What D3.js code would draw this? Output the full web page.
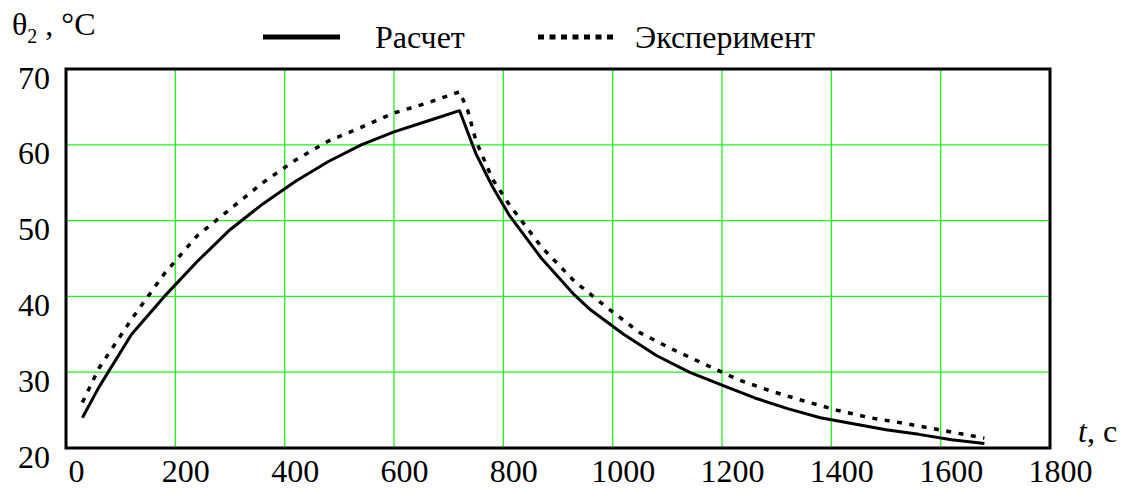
<!DOCTYPE html>
<html>
<head>
<meta charset="utf-8">
<script src="https://cdn.jsdelivr.net/npm/d3@7"></script>
<style>
body { margin: 0; background: #fff; }
svg text { font-family: "Liberation Serif", "Times New Roman", serif; fill: #000; }
</style>
</head>
<body>
<svg id="chart" width="1126" height="489"></svg>
<script>
// Расчет (solid)
var calcT = [30, 60, 120, 180, 240, 300, 360, 420, 480, 540, 600, 660, 720,
             750, 780, 810, 870, 930, 960, 1020, 1080, 1140, 1200, 1260, 1320, 1380, 1440, 1500, 1560, 1620, 1680]
var calcV = [24, 28, 35, 40, 44.6, 48.8, 52.2, 55.2, 57.8, 60, 61.7, 63.1, 64.5,
             58.8, 54.5, 50.8, 45, 40.2, 38.2, 35, 32.2, 30, 28.3, 26.6, 25.2, 24, 23.2, 22.4, 21.8, 21.1, 20.6]
// Эксперимент (dotted)
var expT = [30, 60, 120, 180, 240, 300, 360, 420, 480, 540, 600, 660, 720,
            735, 750, 780, 810, 870, 930, 990, 1050, 1110, 1170, 1230, 1290, 1350, 1410, 1470, 1530, 1590, 1650, 1680]
var expV = [26, 30.5, 37, 43, 48, 51.5, 55, 58, 60.5, 62.3, 64.2, 65.5, 67,
            64.5, 60.5, 55.5, 52.2, 46.5, 42, 38.5, 35.2, 33, 31, 29, 27.5, 26.2, 25, 24, 23.3, 22.5, 21.7, 21.3]

var xTicks = [0, 200, 400, 600, 800, 1000, 1200, 1400, 1600, 1800]
var yTicks = [20, 30, 40, 50, 60, 70]

var svg = d3.select("#chart")
var m = { left: 66, right: 1050, top: 69, bottom: 448 }
var fontSize = 32
var serif = "Liberation Serif"

var x = d3.scaleLinear().domain([0, 1800]).range([m.left, m.right])
var y = d3.scaleLinear().domain([20, 70]).range([m.bottom, m.top])

// grid
var grid = svg.append("g")
grid.selectAll(".gx").data(xTicks.slice(1, -1)).enter().append("line")
    .attr("x1", function(d) { return x(d) }).attr("x2", function(d) { return x(d) })
    .attr("y1", m.top).attr("y2", m.bottom)
    .attr("stroke", "#22f022").attr("stroke-width", 1.3)
grid.selectAll(".gy").data(yTicks.slice(1, -1)).enter().append("line")
    .attr("y1", function(d) { return y(d) }).attr("y2", function(d) { return y(d) })
    .attr("x1", m.left).attr("x2", m.right)
    .attr("stroke", "#22f022").attr("stroke-width", 1.3)

// axes tick labels
var xAxis = d3.axisBottom(x).tickValues(xTicks).tickFormat(d3.format("d")).tickSize(0).tickPadding(0)
var gx = svg.append("g").attr("transform", "translate(10," + (m.bottom + 34) + ")").call(xAxis)
gx.attr("font-family", serif).attr("font-size", fontSize)
gx.select(".domain").remove()
gx.selectAll("text").attr("dy", 0).attr("fill", "#000")

var yAxis = d3.axisLeft(y).tickValues(yTicks).tickFormat(d3.format("d")).tickSize(0).tickPadding(0)
var gy = svg.append("g").attr("transform", "translate(50,0)").call(yAxis)
gy.attr("font-family", serif).attr("font-size", fontSize)
gy.select(".domain").remove()
gy.selectAll("text").attr("dy", 19).attr("fill", "#000")

// curves
var line = d3.line()
    .x(function(d) { return x(d[0]) })
    .y(function(d) { return y(d[1]) })

svg.append("path")
    .datum(calcT.map(function(t, i) { return [t, calcV[i]] }))
    .attr("d", line)
    .attr("fill", "none").attr("stroke", "#000").attr("stroke-width", 3)
    .attr("stroke-linejoin", "round")

svg.append("path")
    .datum(expT.map(function(t, i) { return [t, expV[i]] }))
    .attr("d", line)
    .attr("fill", "none").attr("stroke", "#000").attr("stroke-width", 3.5)
    .attr("stroke-dasharray", "5,7.5")

// frame
svg.append("rect")
    .attr("x", m.left).attr("y", m.top)
    .attr("width", m.right - m.left).attr("height", m.bottom - m.top)
    .attr("fill", "none").attr("stroke", "#000").attr("stroke-width", 3)

// axis titles
var yt = svg.append("text").attr("x", 12).attr("y", 35).attr("font-size", fontSize)
yt.append("tspan").text("θ")
yt.append("tspan").attr("dy", 8).attr("font-size", 20).text("2")
yt.append("tspan").attr("dy", -8).text(" , °C")

var xt = svg.append("text").attr("x", 1078).attr("y", 442).attr("font-size", fontSize)
xt.append("tspan").attr("font-style", "italic").text("t")
xt.append("tspan").text(", c")

// legend
var legend = svg.append("g")
legend.append("line").attr("x1", 263).attr("x2", 340).attr("y1", 37).attr("y2", 37)
    .attr("stroke", "#000").attr("stroke-width", 5)
legend.append("text").attr("x", 375).attr("y", 48).attr("font-size", fontSize).text("Расчет")
legend.append("line").attr("x1", 538).attr("x2", 615).attr("y1", 37).attr("y2", 37)
    .attr("stroke", "#000").attr("stroke-width", 5).attr("stroke-dasharray", "6,5.5")
legend.append("text").attr("x", 635).attr("y", 48).attr("font-size", fontSize).text("Эксперимент")
</script>
</body>
</html>
